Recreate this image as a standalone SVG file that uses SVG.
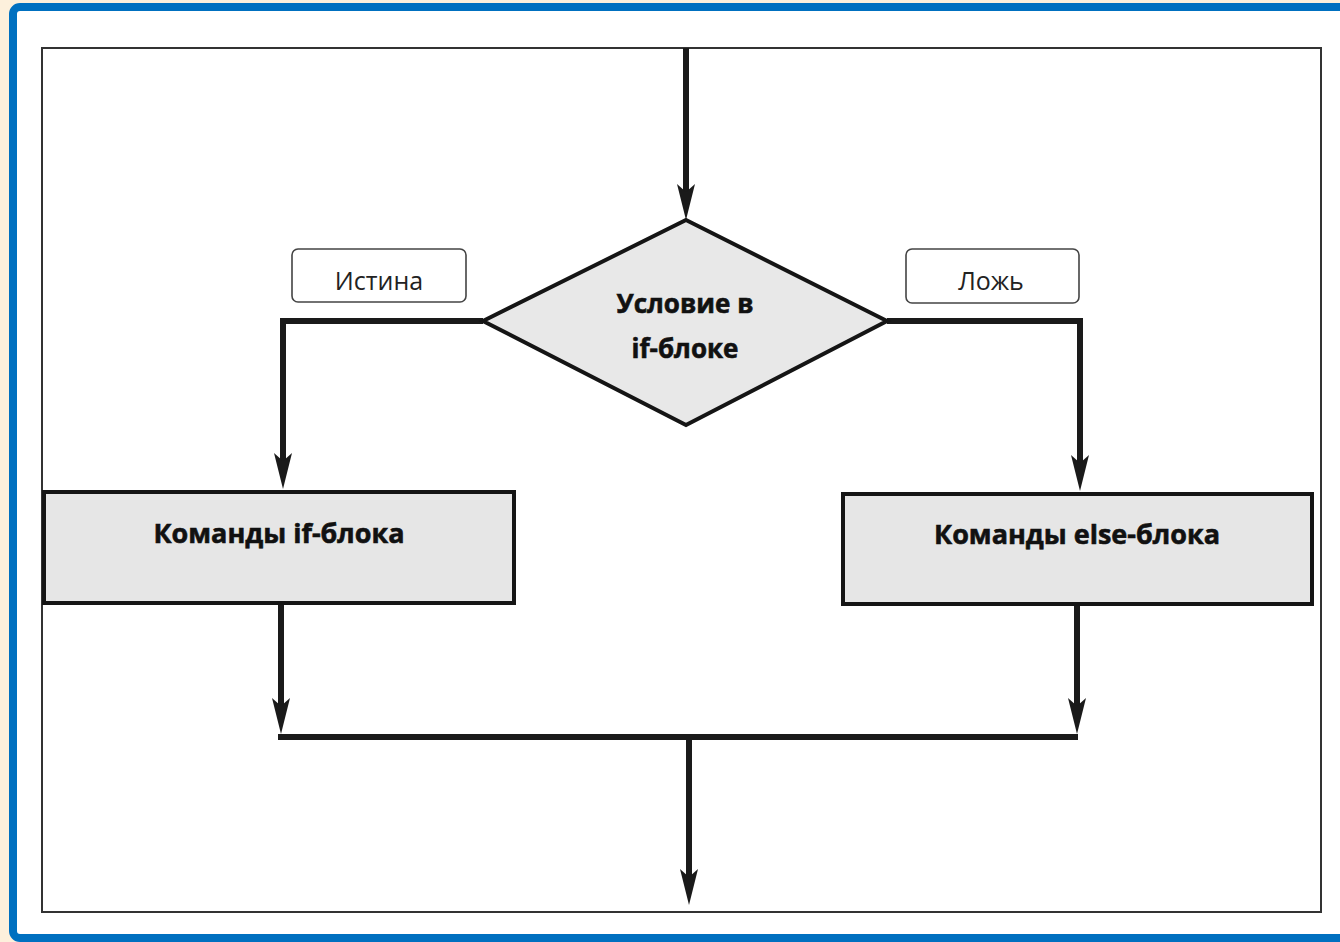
<svg xmlns="http://www.w3.org/2000/svg" width="1340" height="942" viewBox="0 0 1340 942">
<defs>
<style>
.bold{font-family:"Open Sans","Noto Sans","Liberation Sans",sans-serif;font-weight:700;font-size:27px;fill:#111;stroke:#111;stroke-width:0.6;text-anchor:middle}
.cond{font-size:26px}
.lbl{font-family:"Open Sans","Noto Sans","Liberation Sans",sans-serif;font-size:25px;fill:#222;text-anchor:middle}
.conn{fill:none;stroke:#1a1a1a;stroke-width:6;stroke-linejoin:miter}
.arr{marker-end:url(#ah)}
.block{fill:#e6e6e6;stroke:#151515;stroke-width:4}
.tag{fill:#fff;stroke:#444;stroke-width:1.6}
</style>
<marker id="ah" viewBox="0 0 36 20" refX="23" refY="10" markerWidth="36" markerHeight="20" markerUnits="userSpaceOnUse" orient="auto">
<path d="M0,1 L36,10 L0,19 L8,10 z" fill="#1a1a1a"/>
</marker>
</defs>
<rect x="0" y="0" width="1340" height="942" fill="#fdf0dc"/>
<rect x="13" y="7" width="1345" height="931" rx="7" fill="#ffffff" stroke="#0070c0" stroke-width="8"/>
<rect x="42" y="48" width="1279" height="864" fill="none" stroke="#333" stroke-width="2"/>

<g id="connectors">
<path class="conn arr" d="M686,48 L686,207"/>
<path class="conn arr" d="M483,321 L283,321 L283,476"/>
<path class="conn arr" d="M887,321 L1080,321 L1080,478"/>
<path class="conn arr" d="M281,603 L281,721"/>
<path class="conn arr" d="M1077,604 L1077,721"/>
<path class="conn" d="M278,737 L1078,737"/>
<path class="conn arr" d="M689,737 L689,892"/>
</g>

<g id="cond">
<polygon points="686,220 887,321 686,425 483,321" fill="#e8e8e8" stroke="#151515" stroke-width="4"/>
<text class="bold cond" x="685" y="313">Условие в</text>
<text class="bold cond" x="685" y="358">if-блоке</text>
</g>

<g id="true-label">
<rect class="tag" x="292" y="249" width="174" height="53" rx="6"/>
<text class="lbl" x="379" y="290">Истина</text>
</g>

<g id="false-label">
<rect class="tag" x="906" y="249" width="173" height="54" rx="6"/>
<text class="lbl" x="991" y="290">Ложь</text>
</g>

<g id="if-block">
<rect class="block" x="44" y="492" width="470" height="111"/>
<text class="bold" x="279" y="543">Команды if-блока</text>
</g>

<g id="else-block">
<rect class="block" x="843" y="494" width="469" height="110"/>
<text class="bold" x="1077" y="544">Команды else-блока</text>
</g>
</svg>
